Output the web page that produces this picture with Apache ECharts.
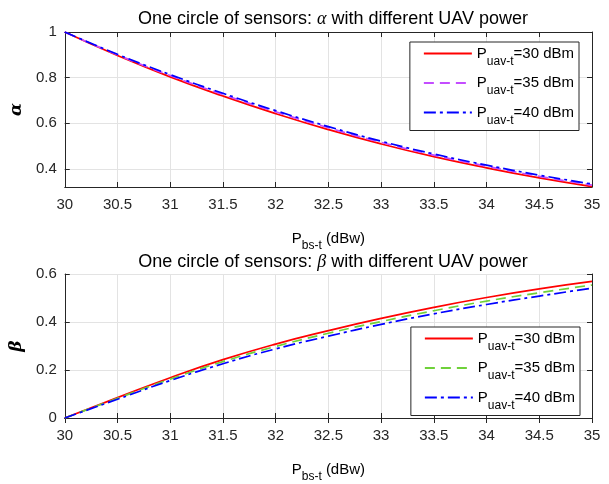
<!DOCTYPE html>
<html>
<head>
<meta charset="utf-8">
<script src="https://cdn.jsdelivr.net/npm/echarts@6/dist/echarts.min.js"></script>
<style>html,body{margin:0;padding:0;background:#fff}#c{width:609px;height:484px}</style>
</head>
<body>
<div id="c"></div>
<script>
const pbs = [30, 30.5, 31, 31.5, 32, 32.5, 33, 33.5, 34, 34.5, 35];
const alphaTicks = [0.4, 0.6, 0.8, 1];
const betaTicks = [0, 0.2, 0.4, 0.6];
const seriesNames = ['30 dBm', '35 dBm', '40 dBm'];
const alpha30 = [1, 0.897, 0.803, 0.719, 0.642, 0.572, 0.509, 0.453, 0.404, 0.360, 0.322];
const alpha35 = [1, 0.900, 0.809, 0.726, 0.650, 0.580, 0.516, 0.460, 0.411, 0.367, 0.328];
const alpha40 = [1, 0.902, 0.813, 0.731, 0.655, 0.585, 0.521, 0.465, 0.416, 0.372, 0.333];
const beta30 = [0, 0.085, 0.168, 0.243, 0.308, 0.364, 0.415, 0.461, 0.502, 0.538, 0.569];
const beta35 = [0, 0.082, 0.162, 0.235, 0.298, 0.353, 0.402, 0.447, 0.487, 0.522, 0.554];
const beta40 = [0, 0.078, 0.156, 0.226, 0.288, 0.341, 0.390, 0.434, 0.473, 0.508, 0.541];

const FONT = 'Liberation Sans, Arial, Helvetica, sans-serif';
const AX = '#262626';
const GRIDC = '#e3e3e3';
const FS = 15;

const pairs = (ys) => pbs.map((x, i) => [x, ys[i]]);

const chart = echarts.init(document.getElementById('c'), null, {renderer: 'canvas'});

const subRich = {
  p: {fontSize: FS, fontFamily: FONT, color: '#000'},
  s: {fontSize: 12, fontFamily: FONT, color: '#000', padding: [15, 0, 0, 0]}
};

function xAxes(gi) {
  return [
    {
      type: 'value', gridIndex: gi, min: 30, max: 35, interval: 0.5, position: 'bottom',
      axisLine: {show: true, lineStyle: {color: AX, width: 1}},
      axisTick: {show: true, inside: true, length: 5, lineStyle: {color: AX}},
      axisLabel: {color: AX, fontSize: FS, fontFamily: FONT, margin: 10,
        formatter: v => String(v)},
      splitLine: {show: true, lineStyle: {color: GRIDC, width: 1}},
      name: '{p|P}{s|bs-t}{p| (dBw)}', nameLocation: 'middle', nameGap: 38,
      nameTextStyle: {rich: subRich}
    },
    {
      type: 'value', gridIndex: gi, min: 30, max: 35, interval: 0.5, position: 'top',
      axisLine: {show: true, lineStyle: {color: AX, width: 1}},
      axisTick: {show: true, inside: true, length: 5, lineStyle: {color: AX}},
      axisLabel: {show: false}, splitLine: {show: false}
    }
  ];
}

function yAxes(gi, min, max, ticks, name) {
  const common = {type: 'value', gridIndex: gi, min: min, max: max};
  return [
    Object.assign({}, common, {
      position: 'left',
      axisLine: {show: true, lineStyle: {color: AX, width: 1}},
      axisTick: {show: true, inside: true, length: 5, lineStyle: {color: AX}, customValues: ticks},
      axisLabel: {color: AX, fontSize: FS, fontFamily: FONT, margin: 8, customValues: ticks,
        formatter: v => String(+v.toFixed(2))},
      splitLine: {show: true, lineStyle: {color: GRIDC, width: 1}, customValues: ticks},
      name: name, nameLocation: 'middle', nameGap: 34, nameRotate: 90,
      nameTextStyle: {fontSize: 17, fontWeight: 'bold', fontFamily: 'DejaVu Serif, Liberation Serif, serif', fontStyle: 'italic', color: '#000'}
    }),
    Object.assign({}, common, {
      position: 'right',
      axisLine: {show: true, lineStyle: {color: AX, width: 1}},
      axisTick: {show: true, inside: true, length: 5, lineStyle: {color: AX}, customValues: ticks},
      axisLabel: {show: false, customValues: ticks}, splitLine: {show: false}
    })
  ];
}

const legendRich = {
  p: {fontSize: FS, fontFamily: FONT, color: '#000'},
  s: {fontSize: 12, fontFamily: FONT, color: '#000', padding: [16, 0, 0, 0]}
};

function legendFor(gi, top, right) {
  return {
    orient: 'vertical', right: right, top: top,
    data: seriesNames.map(n => ({name: 'g' + gi + ' ' + n})),
    formatter: name => '{p|P}{s|uav-t}{p|=' + name.slice(3) + '}',
    textStyle: {rich: legendRich},
    itemWidth: 48, itemHeight: 14, itemGap: 8,
    itemStyle: {opacity: 0},
    padding: [4, 5, 4, 13],
    borderColor: '#262626', borderWidth: 1, backgroundColor: '#fff',
    borderRadius: 0
  };
}

function line(name, xi, yi, ys, color, dash) {
  return {
    name: name, type: 'line', xAxisIndex: xi, yAxisIndex: yi, data: pairs(ys),
    smooth: true, symbol: 'none', showSymbol: false,
    lineStyle: {color: color, width: 1.7, type: dash},
    itemStyle: {color: color}, animation: false, z: 3
  };
}

const RED = '#ff0000', MAG = '#c44dff', GREEN = '#6fd13a', BLUE = '#0000ff';
const SOLID = 'solid', DASH = [10, 6], DASHDOT = [12, 4, 3, 4];

const titleStyle = {fontSize: 18, fontWeight: 'normal', fontFamily: FONT, color: '#000',
  rich: {g: {fontSize: 18, fontStyle: 'italic', fontFamily: 'Liberation Serif, serif', color: '#000'}}};

const option = {
  backgroundColor: '#fff',
  animation: false,
  title: [
    {text: 'One circle of sensors: {g|α} with different UAV power', left: 328, textAlign: 'center', top: 5,
      textStyle: titleStyle},
    {text: 'One circle of sensors: {g|β} with different UAV power', left: 328, textAlign: 'center', top: 248,
      textStyle: titleStyle}
  ],
  grid: [
    {left: 64, top: 32, width: 528, height: 155, show: false},
    {left: 64, top: 274, width: 528, height: 154, show: false}
  ],
  xAxis: xAxes(0).concat(xAxes(1)),
  yAxis: yAxes(0, 0.32, 1, alphaTicks, 'α').concat(yAxes(1, 0, 0.6, betaTicks, 'β')),
  legend: [legendFor(0, 42, 30), legendFor(1, 327, 29)],
  series: [
    line('g0 ' + seriesNames[0], 0, 0, alpha30, RED, SOLID),
    line('g0 ' + seriesNames[1], 0, 0, alpha35, MAG, DASH),
    line('g0 ' + seriesNames[2], 0, 0, alpha40, BLUE, DASHDOT),
    line('g1 ' + seriesNames[0], 2, 2, beta30, RED, SOLID),
    line('g1 ' + seriesNames[1], 2, 2, beta35, GREEN, DASH),
    line('g1 ' + seriesNames[2], 2, 2, beta40, BLUE, DASHDOT)
  ]
};
chart.setOption(option);
</script>
</body>
</html>
